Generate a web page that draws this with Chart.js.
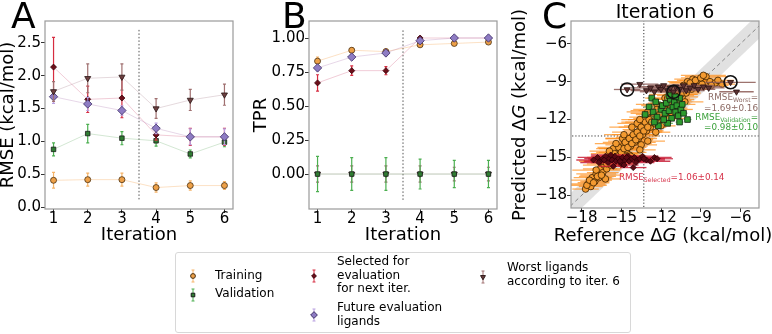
<!DOCTYPE html>
<html>
<head>
<meta charset="utf-8">
<script src="https://cdn.jsdelivr.net/npm/chart.js@4.4.1/dist/chart.umd.min.js"></script>
<style>
  body { margin: 0; background: #fff; font-family: 'DejaVu Sans', sans-serif; }
  #page { position: relative; width: 772px; height: 334px; overflow: hidden; }
  .panel { position: absolute; top: 0; }
  .letter { position: absolute; top: -2px; font-size: 36px; line-height: 36px; }
  .ctitle { position: absolute; left: 571px; width: 188px; top: 2px; text-align: center; font-size: 19px; line-height: 19px; }
  .atitle { position: absolute; width: 300px; text-align: center; font-size: 18px; line-height: 20px; white-space: nowrap; }
  .ann { position: absolute; font-size: 8.8px; line-height: 10px; white-space: nowrap; }
  .ann sub { font-size: 70%; vertical-align: -2px; line-height: 0; }
  .ann.r { right: 14px; text-align: right; }
  #legend { position: absolute; left: 175px; top: 252px; width: 454px; height: 79px; border: 1px solid #d8d8d8; border-radius: 3px; }
  .ltext { position: absolute; font-size: 12px; line-height: 13.7px; white-space: nowrap; }
  .licon { position: absolute; }
</style>
</head>
<body>
<div id="page">
  <canvas id="chartA" class="panel" width="248" height="250" style="left:0px;width:248px;height:250px"></canvas>
  <canvas id="chartB" class="panel" width="262" height="250" style="left:248px;width:262px;height:250px"></canvas>
  <canvas id="chartC" class="panel" width="262" height="250" style="left:510px;width:262px;height:250px"></canvas>

  <div class="letter" style="left:11px">A</div>
  <div class="letter" style="left:282px">B</div>
  <div class="letter" style="left:542px">C</div>
  <div class="ctitle">Iteration 6</div>
  <div class="atitle" style="left:513px;top:225px">Reference Δ<i>G</i> (kcal/mol)</div>
  <div class="atitle" style="left:369px;top:105px;transform:rotate(-90deg)">Predicted Δ<i>G</i> (kcal/mol)</div>

  <div class="ann r" style="top:92px;color:#8c6a64">RMSE<sub>Worst</sub>=</div>
  <div class="ann r" style="top:103px;color:#8c6a64">=1.69±0.16</div>
  <div class="ann r" style="top:112px;color:#3aa03a">RMSE<sub>Validation</sub>=</div>
  <div class="ann r" style="top:122px;color:#3aa03a">=0.98±0.10</div>
  <div class="ann" style="left:619px;top:172px;color:#d6334a">RMSE<sub>Selected</sub>=1.06±0.14</div>

  <div id="legend"></div>
  <canvas class="licon" id="iconTraining" width="12" height="18" style="left:187px;top:267px"></canvas>
  <canvas class="licon" id="iconValidation" width="12" height="18" style="left:187px;top:286px"></canvas>
  <canvas class="licon" id="iconSelected" width="12" height="18" style="left:308px;top:267px"></canvas>
  <canvas class="licon" id="iconFuture" width="12" height="18" style="left:308px;top:306px"></canvas>
  <canvas class="licon" id="iconWorst" width="12" height="18" style="left:477px;top:268px"></canvas>
  <div class="ltext" style="left:215px;top:269px">Training</div>
  <div class="ltext" style="left:215px;top:287px">Validation</div>
  <div class="ltext" style="left:337px;top:255px">Selected for<br>evaluation<br>for next iter.</div>
  <div class="ltext" style="left:337px;top:301px">Future evaluation<br>ligands</div>
  <div class="ltext" style="left:507px;top:261px">Worst ligands<br>according to iter. 6</div>
</div>

<script>
// panel A / B: per-iteration metrics
const iterations = [1, 2, 3, 4, 5, 6];

const rmseTraining = [0.41, 0.42, 0.42, 0.30, 0.33, 0.33];
const rmseTrainingErr = [0.12, 0.10, 0.10, 0.07, 0.07, 0.06];
const rmseValidation = [0.88, 1.12, 1.05, 1.01, 0.81, 0.99];
const rmseValidationErr = [0.10, 0.14, 0.10, 0.08, 0.06, 0.07];
const rmseSelected = [2.13, 1.64, 1.66, 1.10, 1.07, 1.07];
const rmseSelectedErr = [0.45, 0.20, 0.30, 0.08, 0.13, 0.13];
const rmseFuture = [1.68, 1.57, 1.47, 1.20, 1.07, 1.07];
const rmseFutureErr = [0.10, 0.10, 0.07, 0.08, 0.12, 0.12];
const rmseWorst = [1.76, 1.96, 1.98, 1.50, 1.63, 1.71];
const rmseWorstErr = [0.15, 0.22, 0.20, 0.15, 0.16, 0.16];

const tprTraining = [0.83, 0.91, 0.90, 0.95, 0.96, 0.97];
const tprTrainingErr = [0.03, 0.02, 0.02, 0.01, 0.01, 0.01];
const tprValidation = [0, 0, 0, 0, 0, 0];
const tprValidationErr = [0.13, 0.12, 0.12, 0.11, 0.10, 0.10];
const tprSelected = [0.67, 0.76, 0.76, 1.00, 1.00, 1.00];
const tprSelectedErr = [0.06, 0.035, 0.03, 0.01, 0.01, 0.01];
const tprFuture = [0.78, 0.86, 0.89, 0.98, 1.00, 1.00];
const tprFutureErr = [0.02, 0.02, 0.02, 0.01, 0.01, 0.01];
const tprWorst = [0, 0, 0, 0, 0, 0];
const tprWorstErr = [0.06, 0.06, 0.06, 0.06, 0.05, 0.05];

const rmseTicks = [0, 0.5, 1.0, 1.5, 2.0, 2.5];
const tprTicks = [0, 0.25, 0.5, 0.75, 1.0];
const dgTicks = [-18, -15, -12, -9, -6];

// iteration where the selection split happens, threshold in panel C
const splitIter = 3.5;
const splitRmse = [0.12, 2.7];
const splitTpr = [-0.19, 1.07];
const dgCut = -13.3;

// panel C: [reference dG, predicted dG, horizontal error]
const trainingC = [
  [-17.7, -17.5, 1.0], [-17.5, -17.1, 1.3], [-17.3, -17.3, 0.9], [-17.2, -16.6, 1.4], [-17.0, -16.9, 1.1],
  [-16.9, -16.3, 1.5], [-16.7, -16.6, 1.0], [-16.6, -15.9, 1.3], [-16.4, -16.2, 1.2], [-16.3, -15.6, 1.6],
  [-16.1, -15.9, 1.1], [-16.0, -15.2, 1.4], [-15.8, -15.6, 1.0], [-15.7, -14.9, 1.5], [-15.5, -15.3, 1.2],
  [-15.4, -14.6, 1.3], [-15.2, -15.0, 1.1], [-15.1, -14.3, 1.6], [-14.9, -14.7, 1.2], [-14.8, -14.0, 1.4],
  [-14.6, -14.4, 1.0], [-14.5, -13.7, 1.5], [-14.3, -14.1, 1.3], [-14.2, -13.4, 1.2], [-14.0, -13.8, 1.6],
  [-13.9, -13.1, 1.1], [-13.7, -13.5, 1.4], [-13.6, -12.8, 1.3], [-13.4, -13.2, 1.0], [-13.3, -12.5, 1.5],
  [-13.1, -12.9, 1.2], [-13.0, -12.2, 1.7], [-12.8, -12.6, 1.1], [-12.7, -11.9, 1.4], [-12.5, -12.3, 1.3],
  [-12.4, -11.6, 1.5], [-12.2, -12.0, 1.0], [-12.1, -11.3, 1.6], [-11.9, -11.7, 1.2], [-11.8, -11.0, 1.4],
  [-11.6, -11.4, 1.1], [-11.5, -10.7, 1.5], [-11.3, -11.1, 1.3], [-11.2, -10.4, 1.2], [-11.0, -10.8, 1.6],
  [-10.9, -10.1, 1.4], [-10.7, -10.5, 1.0], [-10.6, -9.8, 1.5], [-10.4, -10.2, 1.2], [-10.3, -9.6, 1.7],
  [-10.1, -9.9, 1.1], [-9.9, -9.4, 1.6], [-9.7, -9.6, 1.3], [-9.5, -9.1, 1.8], [-9.3, -9.3, 1.4],
  [-9.1, -8.9, 1.5], [-8.9, -9.2, 1.3], [-8.6, -8.6, 1.6], [-8.3, -9.0, 1.2], [-7.9, -9.1, 1.1],
  [-7.4, -9.2, 1.0], [-14.9, -13.5, 1.3], [-13.8, -12.3, 1.5], [-13.2, -11.8, 1.2], [-12.9, -11.3, 1.4],
  [-12.3, -10.8, 1.6], [-11.7, -10.3, 1.3], [-12.0, -12.5, 1.1], [-13.5, -14.0, 1.2], [-15.0, -15.5, 1.0],
  [-16.2, -16.7, 1.1], [-11.4, -11.9, 1.3], [-10.8, -11.2, 1.2], [-10.2, -10.6, 1.4], [-14.4, -14.8, 1.1],
  [-16.5, -15.3, 1.4], [-15.6, -14.3, 1.3], [-10.0, -9.0, 1.5], [-9.6, -8.8, 1.4],
  [-17.6, -17.2, 1.5], [-17.4, -16.8, 1.7], [-17.1, -17.0, 1.2], [-16.9, -16.0, 1.8], [-16.8, -16.5, 1.4],
  [-16.5, -16.4, 1.6], [-16.3, -15.3, 1.9], [-16.1, -15.5, 1.5], [-15.9, -15.0, 1.7], [-15.7, -15.4, 1.3],
  [-15.5, -14.7, 1.8], [-15.3, -14.9, 1.4], [-15.2, -14.2, 1.6], [-15.0, -14.6, 1.9], [-14.8, -14.3, 1.5],
  [-14.7, -13.8, 1.7], [-14.5, -14.2, 1.4], [-14.4, -13.5, 1.8], [-14.2, -13.9, 1.5], [-14.1, -13.2, 1.6],
  [-13.9, -13.6, 1.3], [-13.8, -13.0, 1.9], [-13.6, -13.3, 1.4], [-13.5, -12.6, 1.7], [-13.3, -12.9, 1.5],
  [-13.2, -12.2, 1.8], [-13.0, -12.6, 1.4], [-12.9, -12.0, 1.6], [-12.7, -12.2, 1.3], [-12.6, -11.5, 1.7],
  [-12.4, -12.0, 1.5], [-12.3, -11.2, 1.8], [-12.1, -11.6, 1.4], [-11.9, -10.9, 1.6], [-11.7, -11.2, 1.3],
  [-11.5, -10.3, 1.7], [-11.3, -10.7, 1.5], [-11.1, -10.0, 1.8], [-10.9, -10.4, 1.4], [-10.7, -9.7, 1.6],
  [-10.5, -10.0, 1.3], [-10.3, -9.3, 1.7], [-10.0, -9.6, 1.5], [-9.8, -9.1, 1.6], [-9.4, -8.9, 1.4],
  [-9.0, -8.7, 1.5], [-8.8, -8.5, 1.7], [-8.2, -9.3, 1.3], [-7.7, -8.9, 1.2],
  [-15.4, -13.9, 1.6], [-14.8, -13.2, 1.5], [-14.2, -12.6, 1.7], [-13.6, -12.0, 1.4], [-13.0, -11.4, 1.6],
  [-13.6, -14.4, 1.2], [-13.0, -13.7, 1.3], [-12.4, -13.0, 1.1], [-14.3, -14.9, 1.2], [-15.9, -14.5, 1.5]
];
const selectedC = [
  [-17.1, -15.2, 1.3], [-16.8, -15.0, 1.5], [-16.6, -15.3, 1.2], [-16.4, -15.1, 1.4], [-16.2, -14.9, 1.1],
  [-16.0, -15.4, 1.3], [-15.9, -15.1, 1.6], [-15.7, -15.2, 1.2], [-15.5, -14.9, 1.4], [-15.4, -15.3, 1.1],
  [-15.2, -15.1, 1.5], [-15.0, -15.5, 1.2], [-14.9, -15.0, 1.3], [-14.7, -15.2, 1.6], [-14.5, -14.9, 1.1],
  [-14.4, -15.3, 1.4], [-14.2, -15.1, 1.2], [-14.0, -15.0, 1.5], [-13.8, -15.2, 1.3], [-13.6, -15.1, 1.7],
  [-13.4, -14.9, 1.2], [-13.1, -15.2, 1.4], [-12.8, -15.3, 1.5], [-12.5, -15.0, 1.3], [-15.6, -15.7, 1.1],
  [-14.1, -15.8, 1.0], [-16.7, -15.4, 1.4], [-16.3, -15.2, 1.2], [-15.8, -14.8, 1.5], [-15.1, -15.3, 1.3],
  [-14.6, -15.0, 1.2], [-13.9, -15.4, 1.4], [-13.3, -15.1, 1.6], [-12.3, -15.1, 1.2], [-14.8, -15.6, 1.1]
];
const worstC = [
  [-14.56, -9.62, 1.0], [-13.6, -9.2, 1.4], [-13.1, -9.7, 1.2], [-12.8, -9.5, 1.5], [-12.5, -9.8, 1.1],
  [-12.2, -9.4, 1.6], [-12.0, -9.6, 1.3], [-11.8, -9.3, 1.2], [-11.5, -9.7, 1.5], [-11.3, -9.5, 1.4],
  [-11.06, -9.81, 1.2], [-10.9, -9.4, 1.3], [-10.6, -9.6, 1.6], [-10.3, -9.3, 1.1], [-10.1, -9.7, 1.4],
  [-9.8, -9.5, 1.2], [-9.5, -9.3, 1.5], [-9.2, -9.6, 1.3], [-8.8, -9.4, 1.4], [-8.4, -9.5, 1.2],
  [-6.75, -9.05, 1.9], [-6.3, -9.8, 1.3]
];
const validationC = [
  [-12.7, -10.3, 0.3], [-12.4, -10.6, 0.4], [-13.2, -11.6, 0.3], [-12.9, -11.0, 0.4], [-12.6, -11.4, 0.3],
  [-12.3, -11.8, 0.4], [-12.0, -11.2, 0.3], [-11.9, -10.9, 0.3], [-11.7, -11.5, 0.4], [-11.6, -10.7, 0.3],
  [-11.4, -11.3, 0.3], [-11.3, -10.4, 0.4], [-11.2, -11.9, 0.3], [-11.1, -11.0, 0.3], [-11.0, -10.6, 0.4],
  [-10.9, -11.4, 0.3], [-10.8, -10.9, 0.3], [-10.7, -11.7, 0.4], [-10.6, -10.3, 0.3], [-10.5, -11.2, 0.3],
  [-10.4, -10.8, 0.4], [-10.3, -11.5, 0.3], [-10.6, -12.2, 0.3], [-11.5, -12.3, 0.4], [-10.0, -12.0, 0.3],
  [-12.2, -12.5, 0.3], [-11.8, -12.0, 0.4], [-10.9, -10.2, 0.3], [-11.4, -10.1, 0.3], [-12.5, -12.2, 0.4]
];
const circledC = [[-14.56, -9.62], [-11.06, -9.81], [-6.75, -9.05]];
const diagLine = [[-20, -20], [-3, -3]];
const bandUpper = [[-20, -19], [-3, -2]];
const bandLower = [[-20, -21], [-3, -4]];

Chart.defaults.font.family = "'DejaVu Sans', sans-serif";
Chart.defaults.color = '#000';
Chart.defaults.animation = false;

// error bars drawn under each dataset's markers
const errorBars = {
  id: 'errorBars',
  beforeDatasetDraw(chart, args) {
    const ds = chart.data.datasets[args.index];
    if (!ds.errY && !ds.errX) return;
    const ctx = chart.ctx;
    const xs = chart.scales.x, ys = chart.scales.y;
    const area = chart.chartArea;
    const cap = ds.cap || 0;
    ctx.save();
    ctx.beginPath();
    ctx.rect(area.left, area.top, area.right - area.left, area.bottom - area.top);
    ctx.clip();
    ctx.strokeStyle = ds.errColor;
    ctx.lineWidth = ds.errWidth || 1;
    ds.data.forEach((p, i) => {
      const px = xs.getPixelForValue(p.x), py = ys.getPixelForValue(p.y);
      ctx.beginPath();
      if (ds.errY) {
        const t = ys.getPixelForValue(p.y + ds.errY[i]), b = ys.getPixelForValue(p.y - ds.errY[i]);
        ctx.moveTo(px, t); ctx.lineTo(px, b);
        if (cap) { ctx.moveTo(px - cap, t); ctx.lineTo(px + cap, t); ctx.moveTo(px - cap, b); ctx.lineTo(px + cap, b); }
      }
      if (ds.errX) {
        const l = xs.getPixelForValue(p.x - ds.errX[i]), r = xs.getPixelForValue(p.x + ds.errX[i]);
        ctx.moveTo(l, py); ctx.lineTo(r, py);
      }
      ctx.stroke();
    });
    ctx.restore();
  }
};

// grey frame on all four sides
const frame = {
  id: 'frame',
  afterDraw(chart) {
    const a = chart.chartArea, ctx = chart.ctx;
    ctx.save();
    ctx.strokeStyle = '#9a9a9a';
    ctx.lineWidth = 1.2;
    ctx.strokeRect(a.left, a.top, a.right - a.left, a.bottom - a.top);
    ctx.restore();
  }
};

function axis(min, max, tickValues, fmt, title, titlePad, size, isX) {
  return {
    type: 'linear',
    min: min,
    max: max,
    afterBuildTicks: s => { s.ticks = tickValues.map(v => ({ value: v })); },
    afterFit: s => { if (isX) s.height = size; else s.width = size; },
    ticks: { callback: fmt, font: { size: 15 }, color: '#000', padding: isX ? -3 : 0, maxRotation: 0, autoSkip: false },
    grid: { drawOnChartArea: false, drawTicks: true, tickLength: 4, tickColor: '#333' },
    border: { display: false },
    title: { display: !!title, text: title, font: { size: 18 }, color: '#000', padding: titlePad }
  };
}

function pts(xs, ys) {
  return xs.map((x, i) => ({ x: x, y: ys[i] }));
}

function series(values, err, style) {
  return Object.assign({
    data: pts(iterations, values),
    showLine: true,
    borderWidth: 1,
    errY: err,
    errWidth: 1.2,
    cap: 1.5,
    pointBorderWidth: 0.8
  }, style);
}

const styles = {
  training: { borderColor: 'rgba(245,170,90,0.35)', pointBackgroundColor: '#eda048', pointBorderColor: '#4a3010', pointStyle: 'circle', pointRadius: 3, errColor: '#f5b46a', order: 5 },
  validation: { borderColor: 'rgba(110,175,110,0.3)', pointBackgroundColor: '#2f7d32', pointBorderColor: '#1a1a1a', pointStyle: 'rect', pointRadius: 3.2, errColor: '#4caf50', order: 4 },
  selected: { borderColor: 'rgba(215,110,140,0.35)', pointBackgroundColor: '#6b0f1a', pointBorderColor: '#3a0008', pointStyle: 'rectRot', pointRadius: 3, errColor: '#d62c40', order: 3 },
  future: { borderColor: 'rgba(185,140,190,0.35)', pointBackgroundColor: '#8e7cc3', pointBorderColor: '#3d2f66', pointStyle: 'rectRot', pointRadius: 4.2, errColor: '#b9a0e0', order: 2 },
  worst: { borderColor: 'rgba(190,160,170,0.4)', pointBackgroundColor: '#6d4040', pointBorderColor: '#2a1515', pointStyle: 'triangle', pointRotation: 180, pointRadius: 3.5, errColor: '#a07070', order: 1 }
};

function splitLine(range) {
  return {
    data: pts([splitIter, splitIter], range),
    showLine: true, pointRadius: 0, borderColor: '#555', borderWidth: 1, borderDash: [1.5, 2], order: 9
  };
}

new Chart(document.getElementById('chartA'), {
  type: 'scatter',
  data: {
    datasets: [
      splitLine(splitRmse),
      series(rmseTraining, rmseTrainingErr, styles.training),
      series(rmseValidation, rmseValidationErr, styles.validation),
      series(rmseSelected, rmseSelectedErr, styles.selected),
      series(rmseFuture, rmseFutureErr, styles.future),
      series(rmseWorst, rmseWorstErr, styles.worst)
    ]
  },
  options: {
    responsive: false,
    layout: { padding: { left: 0, top: 21, right: 15, bottom: 0 }, autoPadding: false },
    plugins: { legend: { display: false }, tooltip: { enabled: false } },
    scales: {
      x: axis(0.75, 6.25, iterations, v => String(v), 'Iteration', { top: 0, bottom: 4 }, 41, true),
      y: axis(-0.026, 2.83, rmseTicks, v => v.toFixed(1), 'RMSE (kcal/mol)', { top: -2, bottom: 0 }, 45, false)
    }
  },
  plugins: [errorBars, frame]
});

new Chart(document.getElementById('chartB'), {
  type: 'scatter',
  data: {
    datasets: [
      splitLine(splitTpr),
      series(tprTraining, tprTrainingErr, styles.training),
      series(tprWorst, tprWorstErr, Object.assign({}, styles.worst, { order: 4.5 })),
      series(tprValidation, tprValidationErr, Object.assign({}, styles.validation, { order: 4 })),
      series(tprSelected, tprSelectedErr, styles.selected),
      series(tprFuture, tprFutureErr, styles.future)
    ]
  },
  options: {
    responsive: false,
    layout: { padding: { left: 0, top: 21, right: 13, bottom: 0 }, autoPadding: false },
    plugins: { legend: { display: false }, tooltip: { enabled: false } },
    scales: {
      x: axis(0.75, 6.25, iterations, v => String(v), 'Iteration', { top: 0, bottom: 4 }, 41, true),
      y: axis(-0.257, 1.125, tprTicks, v => v.toFixed(2), 'TPR', { top: 3, bottom: 0 }, 61, false)
    }
  },
  plugins: [errorBars, frame]
});

function scatterC(rows, style) {
  return Object.assign({
    data: rows.map(r => ({ x: r[0], y: r[1] })),
    errX: rows[0].length > 2 ? rows.map(r => r[2]) : null,
    errWidth: 1.3,
    pointBorderWidth: 0.8
  }, style);
}

function refLine(rows, style) {
  return Object.assign({
    data: rows.map(r => ({ x: r[0], y: r[1] })),
    showLine: true, pointRadius: 0, borderWidth: 1
  }, style);
}

const minus = v => String(v).replace('-', '\u2212');

new Chart(document.getElementById('chartC'), {
  type: 'scatter',
  data: {
    datasets: [
      refLine(bandUpper, { borderColor: 'rgba(0,0,0,0)', backgroundColor: 'rgba(200,200,200,0.55)', fill: '+1', order: 20 }),
      refLine(bandLower, { borderColor: 'rgba(0,0,0,0)', order: 19 }),
      refLine(diagLine, { borderColor: '#888', borderDash: [4, 3], order: 18 }),
      refLine([[dgCut, -25], [dgCut, 0]], { borderColor: '#333', borderDash: [1.2, 2], order: 17 }),
      refLine([[-25, dgCut], [0, dgCut]], { borderColor: '#333', borderDash: [1.2, 2], order: 16 }),
      scatterC(trainingC, { pointStyle: 'circle', pointRadius: 3.3, pointBackgroundColor: '#f39a30', pointBorderColor: '#3a2000', errColor: 'rgba(255,140,20,0.7)', order: 10 }),
      scatterC(selectedC, { pointStyle: 'rectRot', pointRadius: 3, pointBackgroundColor: '#5a0a14', pointBorderColor: '#2a0005', errColor: 'rgba(200,30,55,0.85)', order: 9 }),
      scatterC(worstC, { pointStyle: 'triangle', pointRotation: 180, pointRadius: 3.5, pointBackgroundColor: '#5c3232', pointBorderColor: '#2a1212', errColor: 'rgba(140,90,85,0.85)', order: 8 }),
      scatterC(validationC, { pointStyle: 'rect', pointRadius: 4, pointBackgroundColor: '#2e9a2e', pointBorderColor: '#112211', errColor: 'rgba(90,180,90,0.8)', order: 7 }),
      scatterC(circledC, { pointStyle: 'circle', pointRadius: 6.5, pointBackgroundColor: 'rgba(0,0,0,0)', pointBorderColor: '#111', pointBorderWidth: 1.6, order: 6 })
    ]
  },
  options: {
    responsive: false,
    layout: { padding: { left: 0, top: 21, right: 13, bottom: 0 }, autoPadding: false },
    plugins: { legend: { display: false }, tooltip: { enabled: false } },
    scales: {
      // axis titles with the italic G are HTML text above the canvas
      x: axis(-18.8, -4.6, dgTicks, minus, '', {}, 42, true),
      y: axis(-19.0, -4.2, dgTicks, minus, '', {}, 61, false)
    }
  },
  plugins: [errorBars, frame]
});

// legend icons: error bar with the series marker
function icon(id, style) {
  const c = document.getElementById(id), ctx = c.getContext('2d');
  ctx.strokeStyle = style.errColor;
  ctx.lineWidth = 1;
  ctx.beginPath();
  ctx.moveTo(6, 3); ctx.lineTo(6, 15);
  ctx.moveTo(4.5, 3); ctx.lineTo(7.5, 3);
  ctx.moveTo(4.5, 15); ctx.lineTo(7.5, 15);
  ctx.stroke();
  ctx.fillStyle = style.pointBackgroundColor;
  ctx.strokeStyle = style.pointBorderColor;
  Chart.helpers.drawPoint(ctx, { pointStyle: style.pointStyle, radius: style.pointRadius * 0.8, rotation: style.pointRotation || 0, borderWidth: 0.8 }, 6, 9);
}
icon('iconTraining', styles.training);
icon('iconValidation', styles.validation);
icon('iconSelected', styles.selected);
icon('iconFuture', styles.future);
icon('iconWorst', styles.worst);
</script>
</body>
</html>
